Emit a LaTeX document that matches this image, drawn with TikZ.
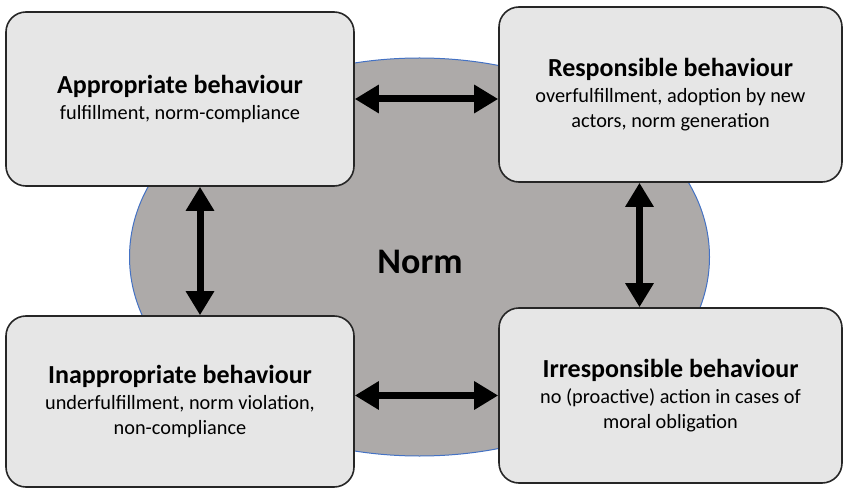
\documentclass[tikz,border=0pt]{standalone}
\usepackage{fontspec}
\setmainfont{Carlito}
\usepackage{tikz}
\usetikzlibrary{arrows.meta}
\definecolor{normgray}{RGB}{173,170,169}
\definecolor{boxgray}{RGB}{230,230,230}
\definecolor{rimblue}{RGB}{68,114,196}
\tikzset{box/.style={draw=black!85,fill=boxgray,line width=1.6pt,rounded corners=20pt,align=center,inner sep=0pt,
    font=\fontsize{20.3}{25}\selectfont},
  link/.style={line width=7pt,{Triangle[length=24pt,width=27pt]}-{Triangle[length=24pt,width=27pt]}}}
\newcommand{\boxtitle}[1]{{\fontsize{26}{30}\selectfont\bfseries #1}}

\begin{document}
\begin{tikzpicture}[x=1pt, y=-1pt]
    \useasboundingbox (0, 0) rectangle (843, 489);
    \draw [rimblue, fill=normgray, line width=1pt] (419.5, 257) ellipse (290 and 199);
    \node [font=\fontsize{36}{40}\selectfont\bfseries] (norm) at (420, 262) {Norm};

    \node [box, minimum width=348pt, minimum height=174pt] (appr) at (180, 99)
        {\boxtitle{Appropriate behaviour}\\[1pt]
         fulfillment, norm-compliance};
    \node [box, minimum width=343pt, minimum height=175pt] (resp) at (670.5, 94.5)
        {\boxtitle{Responsible behaviour}\\[1pt]
         overfulfillment, adoption by new\\
         actors, norm generation};
    \node [box, minimum width=348pt, minimum height=171pt] (inappr) at (180, 401.5)
        {\boxtitle{Inappropriate behaviour}\\[1pt]
         underfulfillment, norm violation,\\
         non-compliance};
    \node [box, minimum width=343pt, minimum height=175pt] (irresp) at (670.5, 395.5)
        {\boxtitle{Irresponsible behaviour}\\[1pt]
         no (proactive) action in cases of\\
         moral obligation};

    \draw [link] (appr.east) -- (appr.east -| resp.west);
    \draw [link] (irresp.west -| inappr.east) -- (irresp.west);
    \draw [link] ([xshift=20pt]appr.south) -- ([xshift=20pt]appr.south |- inappr.north);
    \draw [link] ([xshift=-31pt]resp.south) -- ([xshift=-31pt]resp.south |- irresp.north);
\end{tikzpicture}
\end{document}
